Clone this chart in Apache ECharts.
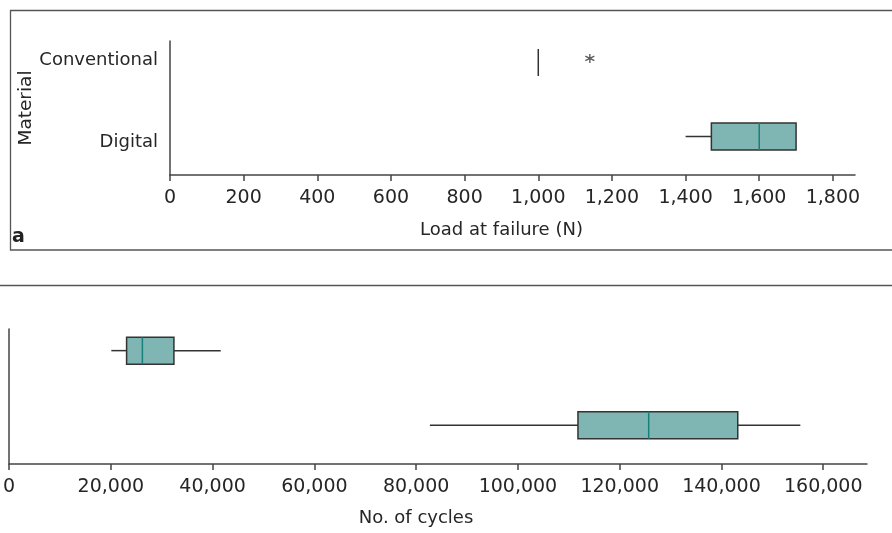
<!DOCTYPE html>
<html><head><meta charset="utf-8">
<script src="https://cdn.jsdelivr.net/npm/echarts@6/dist/echarts.min.js"></script>
<style>html,body{margin:0;padding:0;background:#fff}#c{width:892px;height:533px}</style>
</head><body><div id="c"></div>
<script>
// ---- data ----
const materials = ['Digital', 'Conventional'];
const rowIndex = [1, 2];                 // row position of each material on the vertical axis
// boxplot stats: [min, Q1, median, Q3, max]
const loadDigital = [1400, 1470, 1600, 1700, 1700];
const loadConventional = [1000, 1000, 1000, 1000, 1000];
const loadConventionalOutliers = [1140];
const cyclesDigital = [82700, 111800, 125700, 143200, 155500];
const cyclesConventional = [20100, 23100, 26200, 32400, 41600];
const loadTicks = [0, 200, 400, 600, 800, 1000, 1200, 1400, 1600, 1800];
const cycleTicks = [0, 20000, 40000, 60000, 80000, 100000, 120000, 140000, 160000];
const panelLabel = 'a';
const loadTitle = 'Load at failure (N)';
const cycleTitle = 'No. of cycles';
const yTitle = 'Material';

// ---- styles ----
const FONT = 'DejaVu Sans';
const TXT = '#262626';
const AX = '#444';
const BOX_FILL = '#7fb5b2';
const BOX_EDGE = '#333';
const MEDIAN = '#17807b';
const BOX_H = 27;

function renderBox(params, api) {
  const row = api.value(0);
  const v = [1, 2, 3, 4, 5].map(i => api.value(i));
  const p = v.map(x => api.coord([x, row]));
  const y = p[0][1];
  const ch = [];
  if (v[0] < v[1]) ch.push({type: 'line', shape: {x1: p[0][0], y1: y, x2: p[1][0], y2: y}, style: {stroke: BOX_EDGE, lineWidth: 1.5}});
  if (v[3] < v[4]) ch.push({type: 'line', shape: {x1: p[3][0], y1: y, x2: p[4][0], y2: y}, style: {stroke: BOX_EDGE, lineWidth: 1.5}});
  ch.push({type: 'rect', shape: {x: p[1][0], y: y - BOX_H / 2, width: p[3][0] - p[1][0], height: BOX_H},
           style: {fill: BOX_FILL, stroke: BOX_EDGE, lineWidth: 1.5}});
  if (v[1] < v[3]) ch.push({type: 'line', shape: {x1: p[2][0], y1: y - BOX_H / 2, x2: p[2][0], y2: y + BOX_H / 2}, style: {stroke: MEDIAN, lineWidth: 1.5}});
  return {type: 'group', children: ch};
}

const fmt = v => Math.round(v).toLocaleString('en-US');

function xAxisCfg(grid, max, ticks, name, pad, gap) {
  return {
    type: 'value', gridIndex: grid, min: 0, max: max,
    axisLine: {show: true, onZero: false, lineStyle: {color: AX, width: 1.5}},
    axisTick: {show: true, customValues: ticks, length: 6, lineStyle: {color: AX, width: 1.5}},
    axisLabel: {customValues: ticks, formatter: fmt, fontSize: 19, color: TXT, fontFamily: FONT, margin: 14},
    splitLine: {show: false},
    name: name, nameLocation: 'middle', nameGap: gap, nameMoveOverlap: false,
    nameTextStyle: {fontSize: 18, color: TXT, fontFamily: FONT, padding: [0, pad, 0, 0]}
  };
}

const chart = echarts.init(document.getElementById('c'), null, {renderer: 'canvas'});
chart.setOption({
  animation: false,
  backgroundColor: '#fff',
  title: {text: panelLabel, left: 12, top: 228, padding: 0,
          textStyle: {fontSize: 19, fontWeight: 'bold', color: '#222', fontFamily: FONT}},
  grid: [
    {left: 170, top: 41, width: 685, height: 134},
    {left: 9, top: 329, width: 858, height: 135}
  ],
  xAxis: [
    xAxisCfg(0, 1860, loadTicks, loadTitle, 22, 46),
    xAxisCfg(1, 168600, cycleTicks, cycleTitle, 44, 45)
  ],
  yAxis: [
    {type: 'value', gridIndex: 0, min: 0.48, max: 2.29,
     axisLine: {show: true, onZero: false, lineStyle: {color: AX, width: 1.5}},
     axisTick: {show: false}, splitLine: {show: false},
     axisLabel: {customValues: [rowIndex[0] - 0.08, rowIndex[1] + 0.03],
                 formatter: v => materials[Math.round(v) - 1],
                 fontSize: 18, color: TXT, fontFamily: FONT, margin: 12},
     name: yTitle, nameLocation: 'middle', nameGap: 134, nameMoveOverlap: false,
     nameTextStyle: {fontSize: 18.5, color: TXT, fontFamily: FONT}},
    {type: 'value', gridIndex: 1, min: 0.48, max: 2.29,
     axisLine: {show: true, onZero: false, lineStyle: {color: AX, width: 1.5}},
     axisTick: {show: false}, splitLine: {show: false}, axisLabel: {show: false}}
  ],
  series: [
    {type: 'custom', xAxisIndex: 0, yAxisIndex: 0, renderItem: renderBox,
     encode: {x: [1, 2, 3, 4, 5], y: 0},
     data: [[rowIndex[0], ...loadDigital], [rowIndex[1], ...loadConventional]]},
    {type: 'scatter', xAxisIndex: 0, yAxisIndex: 0,
     symbol: 'path://M5,0L5,10M0.67,2.5L9.33,7.5M0.67,7.5L9.33,2.5',
     symbolSize: 9, symbolOffset: [0, -4],
     itemStyle: {color: 'none', borderColor: '#333', borderWidth: 1.4},
     data: loadConventionalOutliers.map(v => [v, rowIndex[1]])},
    {type: 'custom', xAxisIndex: 1, yAxisIndex: 1, renderItem: renderBox,
     encode: {x: [1, 2, 3, 4, 5], y: 0},
     data: [[rowIndex[0], ...cyclesDigital], [rowIndex[1], ...cyclesConventional]]}
  ],
  graphic: [
    {type: 'rect', silent: true, z: -1, shape: {x: 10.5, y: 10.5, width: 900, height: 239.5},
     style: {fill: 'none', stroke: '#555', lineWidth: 1.3}},
    {type: 'line', silent: true, z: -1, shape: {x1: 0, y1: 285.5, x2: 892, y2: 285.5},
     style: {stroke: '#555', lineWidth: 1.3}}
  ]
});
</script></body></html>
